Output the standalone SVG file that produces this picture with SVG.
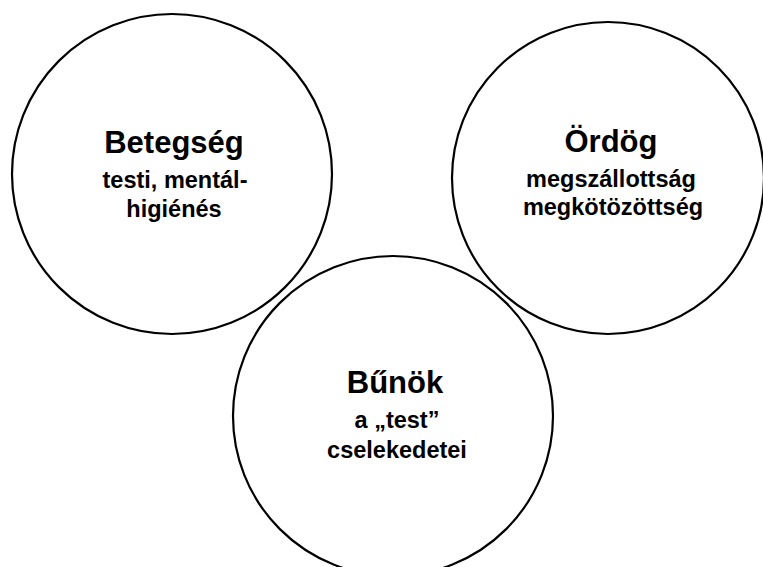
<svg xmlns="http://www.w3.org/2000/svg" width="763" height="567" viewBox="0 0 763 567">
<style>
.c{fill:none;stroke:#000;stroke-width:2.2}
.t{font-family:"Liberation Sans",Arial,sans-serif;font-weight:bold;fill:#000;text-anchor:middle}
.h{font-size:31px}
.s{font-size:23.5px}
</style>
<rect width="763" height="567" fill="#fff"/>
<g id="connectors"></g>
<g id="betegseg">
<circle class="c" cx="172" cy="174" r="160"/>
<text class="t h" x="174" y="153">Betegség</text>
<text class="t s" x="175" y="188">testi, mentál-</text>
<text class="t s" x="174" y="217">higiénés</text>
</g>
<g id="ordog">
<circle class="c" cx="608" cy="178" r="156"/>
<text class="t h" x="611" y="152">Ördög</text>
<text class="t s" x="611" y="187">megszállottság</text>
<text class="t s" x="613" y="214.5">megkötözöttség</text>
</g>
<g id="bunok">
<circle class="c" cx="393" cy="416" r="160"/>
<text class="t h" x="395" y="393">Bűnök</text>
<text class="t s" x="397" y="428">a „test”</text>
<text class="t s" x="397" y="458">cselekedetei</text>
</g>
</svg>
